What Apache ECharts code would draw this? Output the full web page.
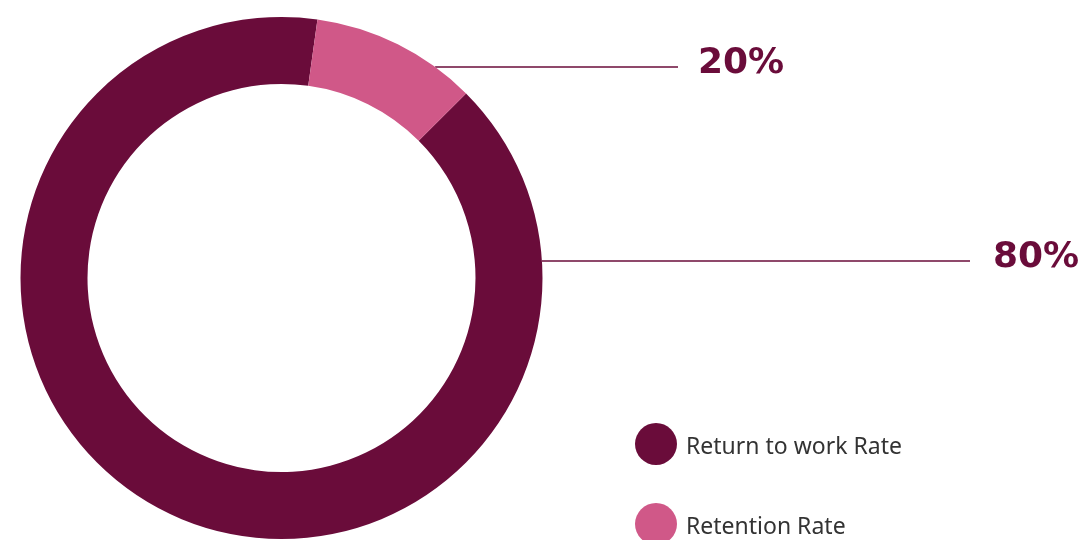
<!DOCTYPE html>
<html>
<head>
<meta charset="utf-8">
<script src="https://cdn.jsdelivr.net/npm/echarts@6/dist/echarts.min.js"></script>
<style>
  html, body { margin: 0; padding: 0; background: #ffffff; }
  #chart { width: 1084px; height: 540px; }
</style>
</head>
<body>
<div id="chart"></div>
<script>
const categories = ["Return to work Rate", "Retention Rate"];
// slice share as drawn (pink wedge is ~37 degrees)
const shares = [89.7, 10.3];
const labelTexts = ["80%", "20%"];
const sliceColors = ["#6a0c3a", "#d05888"];

const CENTER = [281.5, 278];
const RADIUS = [194, 261];
// label row and end of leader line for each slice
const labelRows = [
  { y: 261, lineEnd: 970, textX: 993 },
  { y: 67, lineEnd: 678, textX: 698 },
];

const chart = echarts.init(document.getElementById("chart"));

chart.setOption({
  animation: false,
  legend: {
    orient: "vertical",
    left: 630,
    top: 418,
    height: 200,
    icon: "circle",
    itemWidth: 42,
    itemHeight: 42,
    itemGap: 38,
    data: categories,
    formatter: (name) => "{t|" + name + "}",
    textStyle: {
      rich: {
        t: {
          fontFamily: "Noto Sans",
          fontSize: 23,
          color: "#333333",
          padding: [6, 0, 0, 4],
        },
      },
    },
  },
  series: [
    {
      type: "pie",
      center: CENTER,
      radius: RADIUS,
      startAngle: 45,
      clockwise: true,
      silent: true,
      data: categories.map((name, i) => ({
        name,
        value: shares[i],
        itemStyle: { color: sliceColors[i] },
      })),
      label: {
        show: true,
        position: "outside",
        formatter: (p) => labelTexts[p.dataIndex],
        fontFamily: "DejaVu Sans",
        fontWeight: "bold",
        fontSize: 36,
        color: "#6a0c3a",
      },
      labelLine: {
        show: true,
        lineStyle: { color: "#6a0c3a", width: 1.5, opacity: 1 },
      },
      labelLayout: (params) => {
        const row = labelRows[params.dataIndex];
        const dy = row.y - CENTER[1];
        const startX = CENTER[0] + Math.sqrt(RADIUS[1] * RADIUS[1] - dy * dy);
        return {
          x: row.textX,
          y: row.y - 3,
          align: "left",
          verticalAlign: "middle",
          labelLinePoints: [
            [startX, row.y],
            [startX + 1, row.y],
            [row.lineEnd, row.y],
          ],
        };
      },
    },
  ],
});

window.addEventListener("resize", () => chart.resize());
</script>
</body>
</html>
